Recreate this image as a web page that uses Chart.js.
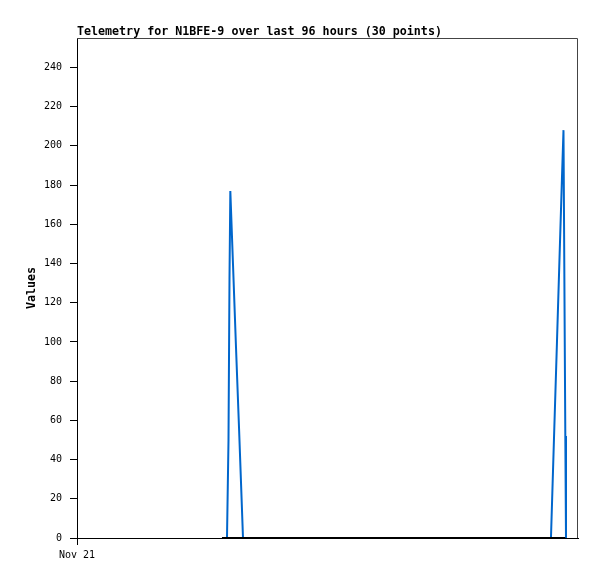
<!DOCTYPE html>
<html>
<head>
<meta charset="utf-8">
<script src="https://cdn.jsdelivr.net/npm/chart.js@4/dist/chart.umd.min.js"></script>
<style>
  html, body { margin: 0; padding: 0; background: #ffffff; }
  canvas { display: block; }
</style>
</head>
<body>
<canvas id="c" width="597" height="579"></canvas>
<script>
// ---- data (hours since Nov 21 00:00) ----
const chartTitle = 'Telemetry for N1BFE-9 over last 96 hours (30 points)';
const yAxisTitle = 'Values';
const xTickLabels = ['Nov 21'];
const times = [
  27.78, 28.10, 28.40, 28.74, 29.03, 29.22, 29.38, 29.90, 30.47, 31.05,
  31.43, 31.81, 35.0, 40.0, 45.0, 50.0, 55.0, 60.0, 65.0, 70.0,
  75.0, 85.0, 90.82, 91.39, 91.97, 92.54, 92.92, 93.22, 93.57, 93.70
];
const values = [
  0, 0, 0, 0, 50, 132, 177, 139, 97, 56,
  28, 0, 0, 0, 0, 0, 0, 0, 0, 0,
  0, 0, 0, 50, 100, 150, 183, 208, 52, 0
];
const baseline = [
  0, 0, 0, 0, 0, 0, 0, 0, 0, 0,
  0, 0, 0, 0, 0, 0, 0, 0, 0, 0,
  0, 0, 0, 0, 0, 0, 0, 0, 0, 0
];

const toPts = (ys) => times.map((t, i) => ({ x: t, y: ys[i] }));

const framePlugin = {
  id: 'frame',
  afterDraw(chart) {
    const { ctx, chartArea: a } = chart;
    ctx.save();
    ctx.strokeStyle = '#444444';
    ctx.lineWidth = 1;
    ctx.beginPath();
    ctx.moveTo(a.left, a.top + 0.5);
    ctx.lineTo(a.right - 0.5, a.top + 0.5);
    ctx.lineTo(a.right - 0.5, a.bottom);
    ctx.stroke();
    ctx.fillStyle = '#000000';
    ctx.font = 'bold 11.67px "DejaVu Sans Mono"';
    ctx.textAlign = 'left';
    ctx.textBaseline = 'alphabetic';
    ctx.fillText(chartTitle, a.left, 35);
    ctx.translate(32, (a.top + a.bottom) / 2);
    ctx.rotate(-Math.PI / 2);
    ctx.textAlign = 'center';
    ctx.textBaseline = 'middle';
    ctx.fillText(yAxisTitle, 0, 0);
    ctx.restore();
  }
};

new Chart(document.getElementById('c'), {
  type: 'line',
  data: {
    datasets: [
      {
        data: toPts(baseline),
        borderColor: '#000000',
        borderWidth: 2,
        pointRadius: 0,
        tension: 0,
        fill: false,
        order: 0
      },
      {
        data: toPts(values),
        borderColor: '#0066cc',
        borderWidth: 2,
        pointRadius: 0,
        tension: 0,
        fill: false,
        order: 1
      }
    ]
  },
  options: {
    responsive: false,
    animation: false,
    devicePixelRatio: 1,
    layout: { padding: { left: 0, right: 19, top: 38, bottom: 11 } },
    plugins: { legend: { display: false }, tooltip: { enabled: false }, title: { display: false } },
    scales: {
      x: {
        type: 'linear',
        min: 0,
        max: 96,
        afterBuildTicks(scale) { scale.ticks = [{ value: 0 }]; },
        afterFit(scale) { scale.height = 30; scale.paddingLeft = 0; scale.paddingRight = 0; },
        border: { display: true, color: '#000000', width: 1 },
        grid: { drawOnChartArea: false, drawTicks: true, tickLength: 7, color: '#000000' },
        ticks: {
          maxRotation: 0,
          padding: 4,
          color: '#000000',
          font: { family: '"DejaVu Sans Mono"', size: 10 },
          callback: (v, i) => xTickLabels[i]
        }
      },
      y: {
        min: 0,
        max: 255,
        afterBuildTicks(scale) {
          scale.ticks = scale.ticks.filter(t => t.value % 20 === 0);
        },
        afterFit(scale) { scale.width = 77; scale.paddingTop = 0; scale.paddingBottom = 0; },
        border: { display: true, color: '#000000', width: 1 },
        grid: { drawOnChartArea: false, drawTicks: true, tickLength: 7, color: '#000000' },
        ticks: {
          stepSize: 20,
          padding: 8,
          color: '#000000',
          font: { family: '"DejaVu Sans Mono"', size: 10 }
        }
      }
    }
  },
  plugins: [framePlugin]
});
</script>
</body>
</html>
